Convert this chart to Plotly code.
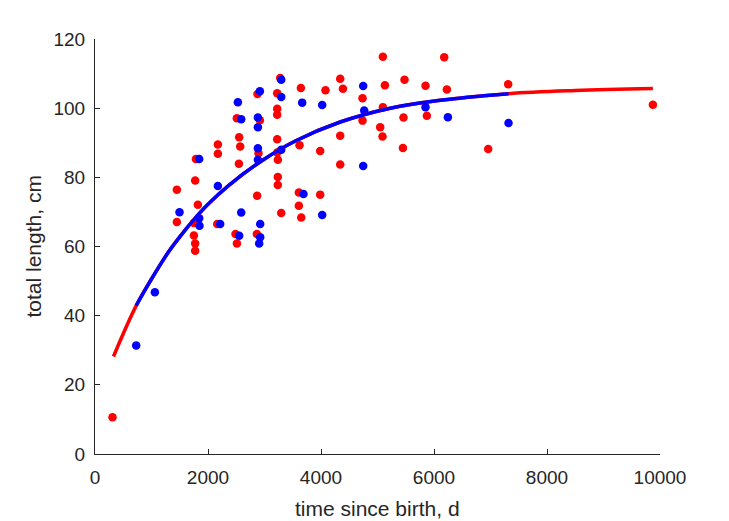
import plotly.graph_objects as go

# Scatter data: time since birth (d) and total length (cm)
red_t = [310, 1449, 1449, 1773, 1786, 1821, 1750, 1750, 1773, 1773, 2175, 2175, 2163,
         2487, 2512, 2511, 2552, 2570, 2547, 2876, 2918, 2894, 2870, 2865, 3278, 3225,
         3225, 3225, 3225, 3225, 3236, 3236, 3236, 3296, 3644, 3620, 4080, 3986, 3608,
         3608, 3650, 3986, 4340, 4388, 4340, 4340, 4735, 4735, 5095, 5131, 5095, 5048,
         5089, 5478, 5460, 5450, 5850, 5874, 6181, 6228, 6959, 7313, 9874]
red_L = [10.6, 76.4, 67.1, 79.1, 85.3, 72.1, 66.8, 63.2, 60.9, 58.8, 89.5, 86.8, 66.5,
         63.6, 60.9, 97.1, 91.6, 88.9, 83.9, 104.1, 96.5, 87.0, 74.7, 63.6, 108.7, 104.3,
         99.8, 98.1, 91.0, 87.2, 85.1, 80.1, 77.8, 69.7, 105.8, 89.3, 105.2, 87.6, 75.6,
         71.8, 68.4, 75.0, 108.5, 105.6, 92.0, 83.7, 102.9, 96.4, 114.9, 106.6, 100.3, 94.5,
         91.8, 108.2, 97.3, 88.5, 106.5, 97.8, 114.7, 105.4, 88.2, 106.9, 101.0]

blue_t = [729, 1060, 1496, 1844, 1844, 1850, 2175, 2216, 2552, 2529, 2588, 2588, 2918,
          2883, 2883, 2883, 2883, 2924, 2924, 2906, 3296, 3296, 3296, 3667, 4021, 3690,
          4021, 4747, 4765, 4747, 5850, 6246, 7319]
blue_L = [31.4, 46.8, 69.9, 85.3, 68.2, 66.0, 77.5, 66.5, 63.1, 101.7, 96.8, 69.8, 104.9,
          97.3, 94.5, 88.4, 85.1, 66.5, 62.7, 60.9, 108.2, 103.2, 88.0, 101.6, 100.9, 75.2,
          69.1, 106.4, 99.3, 83.3, 100.3, 97.4, 95.7]

# Fitted growth curves
red_curve_t = [327, 729, 1000, 1300, 1500, 1773, 2000, 2363, 2954, 3545, 4340, 5225, 6110, 7319, 8500, 9874]
red_curve_L = [28.2, 42.9, 50.6, 58.4, 62.8, 68.2, 72.2, 77.6, 84.8, 90.5, 96.0, 100.0, 102.3, 104.2, 105.1, 105.7]
blue_curve_t = [729, 1000, 1300, 1500, 1773, 2000, 2363, 2954, 3545, 4340, 5225, 6110, 7319]
blue_curve_L = [42.9, 50.6, 58.4, 62.8, 68.2, 72.2, 77.6, 84.8, 90.5, 96.0, 100.0, 102.3, 104.2]

x_ticks = [0, 2000, 4000, 6000, 8000, 10000]
y_ticks = [0, 20, 40, 60, 80, 100, 120]
x_title = "time since birth, d"
y_title = "total length, cm"

RED = "#ff0000"
BLUE = "#0000ff"
AX = "#262626"

fig = go.Figure()
fig.add_trace(go.Scatter(x=red_t, y=red_L, mode="markers",
                         marker=dict(color=RED, size=8.5, line=dict(width=0)),
                         showlegend=False, hoverinfo="skip"))
fig.add_trace(go.Scatter(x=blue_t, y=blue_L, mode="markers",
                         marker=dict(color=BLUE, size=8.5, line=dict(width=0)),
                         showlegend=False, hoverinfo="skip"))
fig.add_trace(go.Scatter(x=red_curve_t, y=red_curve_L, mode="lines",
                         line=dict(color=RED, width=3.5, shape="spline", smoothing=1.0),
                         showlegend=False, hoverinfo="skip"))
fig.add_trace(go.Scatter(x=blue_curve_t, y=blue_curve_L, mode="lines",
                         line=dict(color=BLUE, width=3.5, shape="spline", smoothing=1.0),
                         showlegend=False, hoverinfo="skip"))

fig.update_layout(
    width=729, height=521,
    margin=dict(l=95, r=69, t=39, b=67, autoexpand=False),
    paper_bgcolor="white", plot_bgcolor="white",
    font=dict(family="Liberation Sans, Arial, sans-serif", color=AX, size=19),
    showlegend=False,
    annotations=[
        dict(text=x_title, xref="paper", yref="paper", x=0.5, y=0, xanchor="center",
             yanchor="middle", yshift=-54, showarrow=False, font=dict(size=21, color=AX)),
        dict(text=y_title, xref="paper", yref="paper", x=0, y=0.5, xanchor="center",
             yanchor="middle", xshift=-62, textangle=-90, showarrow=False,
             font=dict(size=21, color=AX)),
    ],
)
fig.update_xaxes(range=[0, 10000], tickvals=x_ticks, ticktext=[str(v) for v in x_ticks],
                 ticks="inside", ticklen=5, tickwidth=1, tickcolor=AX,
                 showline=True, linecolor=AX, linewidth=1, showgrid=False, zeroline=False,
                 tickfont=dict(size=19, color=AX), ticklabelstandoff=6, automargin=False)
fig.update_yaxes(range=[0, 120], tickvals=y_ticks, ticktext=[str(v) for v in y_ticks],
                 ticks="inside", ticklen=5, tickwidth=1, tickcolor=AX,
                 showline=True, linecolor=AX, linewidth=1, showgrid=False, zeroline=False,
                 tickfont=dict(size=19, color=AX), ticklabelstandoff=5, automargin=False)

fig.write_html("out.html")
